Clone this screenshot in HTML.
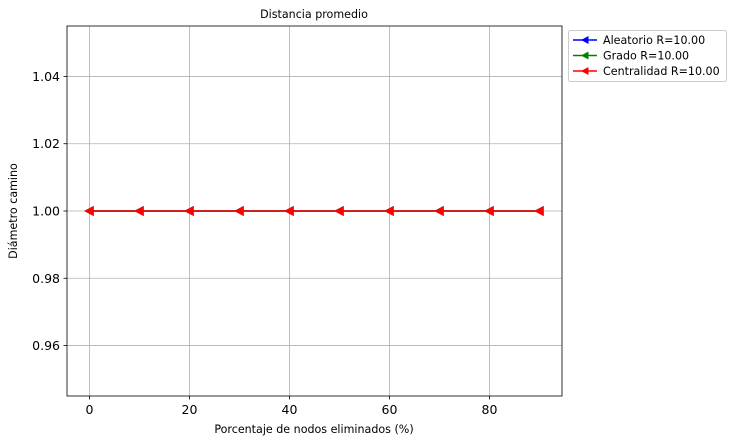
<!DOCTYPE html>
<html><head><meta charset="utf-8"><style>
body{margin:0;background:#fff;}
svg{display:block;font-family:"DejaVu Sans","Liberation Sans",sans-serif;}
</style></head><body>
<svg id="chart" width="734" height="445" viewBox="0 0 734 445">
<rect width="734" height="445" fill="#fff"/>
<g id="grid"></g>
<g id="axes"></g>
<g id="series"></g>
<text x="314" y="18" font-size="11.1" text-anchor="middle">Distancia promedio</text>
<text x="314" y="433" font-size="11.1" text-anchor="middle">Porcentaje de nodos eliminados (%)</text>
<text x="17" y="211" font-size="11.1" text-anchor="middle" transform="rotate(-90 17 211)">Diámetro camino</text>
<g id="legend"></g>
</svg>
<script>
const xValues=[0,10,20,30,40,50,60,70,80,90];
const aleatorio=[1,1,1,1,1,1,1,1,1,1];
const grado=[1,1,1,1,1,1,1,1,1,1];
const centralidad=[1,1,1,1,1,1,1,1,1,1];
const seriesNames=["Aleatorio R=10.00","Grado R=10.00","Centralidad R=10.00"];
const xTicks=[0,20,40,60,80];
const yTicks=[0.96,0.98,1.00,1.02,1.04];

const L=67,R=562,T=26,B=396;
const xMin=-4.5,xMax=94.5,yMin=0.945,yMax=1.055;
const sx=v=>L+(v-xMin)/(xMax-xMin)*(R-L);
const sy=v=>B-(v-yMin)/(yMax-yMin)*(B-T);
const NS="http://www.w3.org/2000/svg";
function mk(tag,attrs,parent){const e=document.createElementNS(NS,tag);for(const k in attrs)e.setAttribute(k,attrs[k]);parent.appendChild(e);return e;}
const grid=document.getElementById('grid'),axes=document.getElementById('axes'),ser=document.getElementById('series'),leg=document.getElementById('legend');

xTicks.forEach(t=>{
  const x=sx(t);
  const g=mk('line',{x1:x,x2:x,y1:T,y2:B,stroke:'#b0b0b0','stroke-width':0.8},grid);
  
  
  mk('line',{x1:x,x2:x,y1:B,y2:B+3.5,stroke:'#000','stroke-width':0.8},axes);
  const tx=mk('text',{x:x,y:B+18,'font-size':12.5,'text-anchor':'middle'},axes);
  tx.textContent=t;
  
  
});
yTicks.forEach(t=>{
  const y=sy(t);
  const g=mk('line',{x1:L,x2:R,y1:y,y2:y,stroke:'#b0b0b0','stroke-width':0.8},grid);
  
  
  mk('line',{x1:L-3.5,x2:L,y1:y,y2:y,stroke:'#000','stroke-width':0.8},axes);
  const tx=mk('text',{x:L-7,y:y+4.5,'font-size':12.5,'text-anchor':'end'},axes);
  tx.textContent=t.toFixed(2);
  
  
});
const frame=mk('rect',{x:L,y:T,width:R-L,height:B-T,fill:'none',stroke:'#000','stroke-width':0.8},axes);



function tri(x,y,s){return `${x-s},${y} ${x+s*0.87},${y-s} ${x+s*0.87},${y+s}`;}
const allSeries=[aleatorio,grado,centralidad];
const colors=['#0000ff','#008000','#ff0000'];
allSeries.forEach((vals,i)=>{
  const pts=xValues.map((x,j)=>sx(x)+','+sy(vals[j])).join(' ');
  const pl=mk('polyline',{points:pts,fill:'none',stroke:colors[i],'stroke-width':1.5},ser);
  
  
  xValues.forEach((x,j)=>{
    const m=mk('polygon',{points:tri(sx(x),sy(vals[j]),4.2),fill:colors[i],stroke:colors[i],'stroke-width':1},ser);
    
    
  });
});

const lb=mk('rect',{x:568.5,y:30.5,width:158,height:51,fill:'#fff',stroke:'#ccc','stroke-width':1,rx:2},leg);


seriesNames.forEach((n,i)=>{
  const y=40+i*15.5;
  mk('line',{x1:573,x2:597,y1:y,y2:y,stroke:colors[i],'stroke-width':1.5},leg);
  mk('polygon',{points:tri(585,y,4),fill:colors[i]},leg);
  const t=mk('text',{x:603,y:y+4,'font-size':11.1},leg);
  t.textContent=n;
  
  
});
</script>
</body></html>
